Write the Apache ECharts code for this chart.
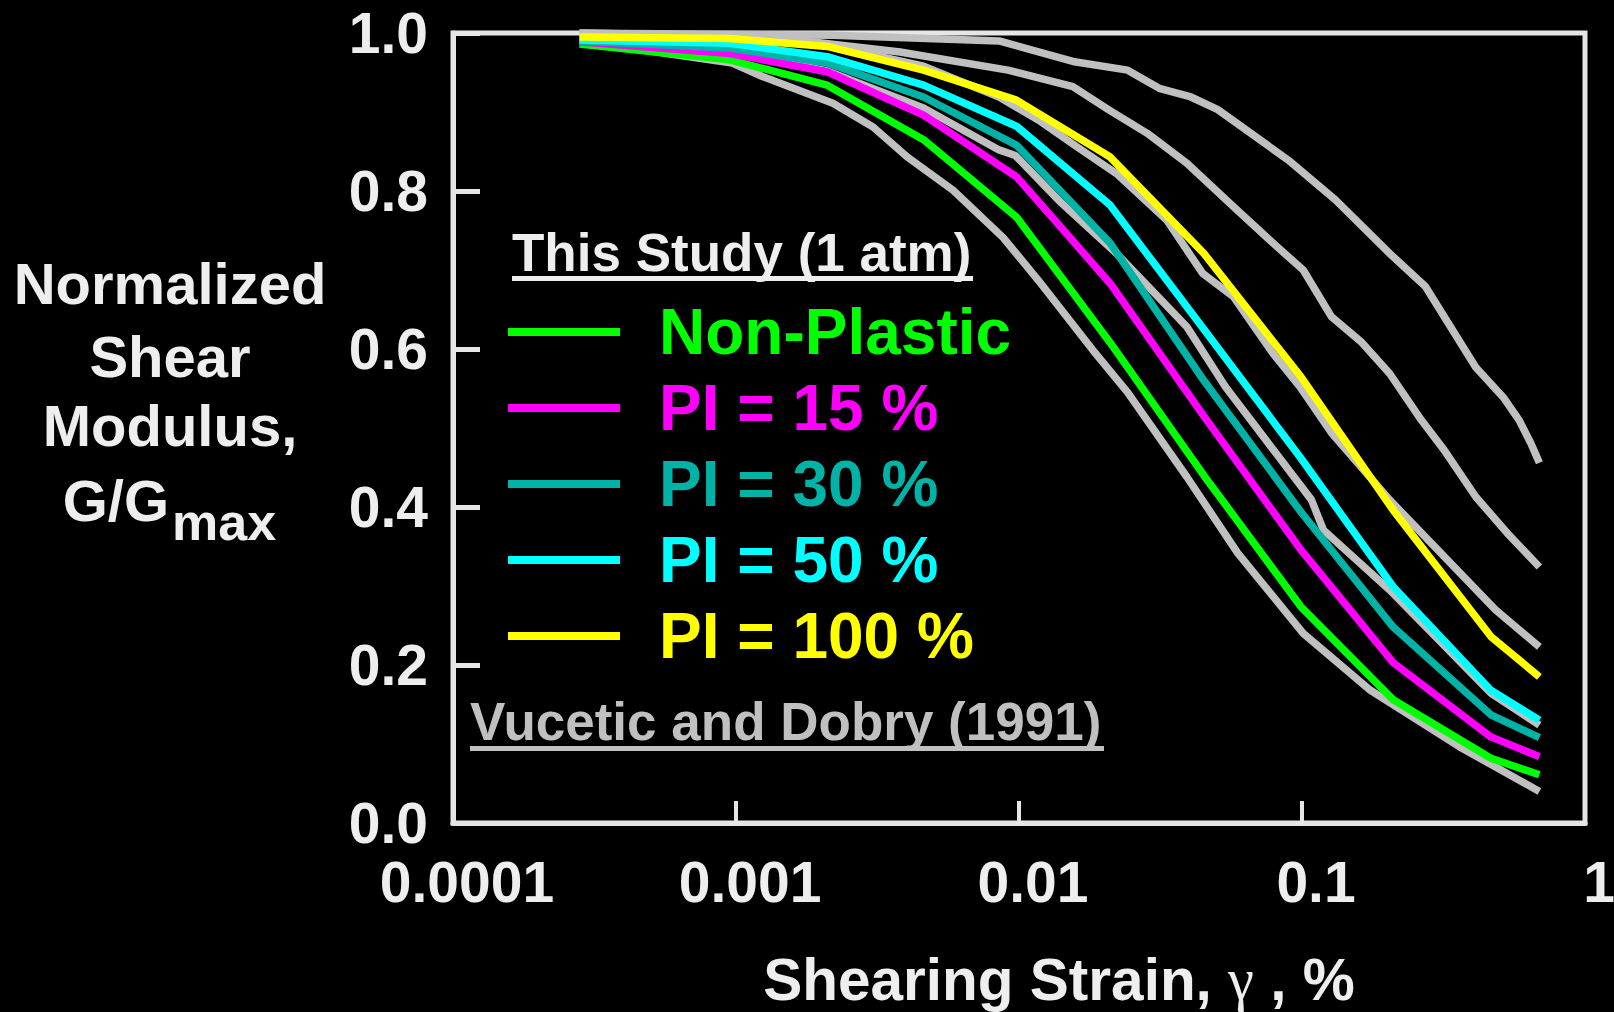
<!DOCTYPE html>
<html><head><meta charset="utf-8">
<script src="https://cdn.jsdelivr.net/npm/echarts@6/dist/echarts.min.js"></script>
<style>html,body{margin:0;padding:0;background:#000;}#chart{width:1614px;height:1012px;}</style>
</head><body><div id="chart"></div>
<script>
// ---- Data ----
// This Study (1 atm): strain (%) at the digitised vertices
const STRAIN = [0.00028, 0.00095, 0.0021, 0.0046, 0.0098, 0.021, 0.045, 0.099, 0.21, 0.465, 0.69];
const NON_PLASTIC = [0.986, 0.966, 0.934, 0.865, 0.767, 0.608, 0.440, 0.274, 0.156, 0.082, 0.061];
const PI_15  = [0.989, 0.974, 0.951, 0.896, 0.818, 0.683, 0.515, 0.346, 0.203, 0.109, 0.084];
const PI_30  = [0.990, 0.981, 0.962, 0.919, 0.858, 0.734, 0.560, 0.394, 0.248, 0.137, 0.108];
const PI_50  = [0.991, 0.987, 0.970, 0.934, 0.882, 0.782, 0.625, 0.462, 0.299, 0.168, 0.130];
const PI_100 = [0.995, 0.993, 0.983, 0.953, 0.915, 0.843, 0.721, 0.565, 0.396, 0.236, 0.185];

// Vucetic and Dobry (1991) reference curves (grey)
const VD_PI0_X = [0.00028, 0.00097, 0.00124, 0.0022, 0.00305, 0.00403, 0.00585, 0.00879, 0.0117, 0.0182, 0.0242, 0.0392, 0.0592, 0.101, 0.1745, 0.362, 0.69];
const VD_PI0_Y = [0.990, 0.962, 0.945, 0.911, 0.881, 0.843, 0.801, 0.741, 0.687, 0.599, 0.545, 0.438, 0.342, 0.240, 0.168, 0.096, 0.040];
const VD_PI15_X = [0.00028, 0.00097, 0.0021, 0.0046, 0.0085, 0.0097, 0.0141, 0.0221, 0.0392, 0.0537, 0.108, 0.119, 0.204, 0.466, 0.69];
const VD_PI15_Y = [0.990, 0.976, 0.952, 0.905, 0.852, 0.845, 0.785, 0.721, 0.628, 0.552, 0.409, 0.371, 0.295, 0.164, 0.124];
const VD_PI30_X = [0.00028, 0.00097, 0.0021, 0.0046, 0.0085, 0.0117, 0.016, 0.0221, 0.0333, 0.0445, 0.0573, 0.0787, 0.0984, 0.127, 0.204, 0.482, 0.69];
const VD_PI30_Y = [1.000, 0.996, 0.985, 0.958, 0.919, 0.890, 0.856, 0.822, 0.763, 0.696, 0.666, 0.595, 0.552, 0.494, 0.409, 0.270, 0.223];
const VD_PI50_X = [0.00028, 0.00124, 0.0038, 0.00914, 0.0155, 0.0207, 0.0284, 0.0392, 0.0573, 0.0813, 0.101, 0.127, 0.163, 0.204, 0.264, 0.318, 0.411, 0.531, 0.69];
const VD_PI50_Y = [1.000, 0.996, 0.976, 0.953, 0.932, 0.903, 0.873, 0.835, 0.780, 0.730, 0.700, 0.641, 0.608, 0.569, 0.510, 0.472, 0.413, 0.367, 0.324];
const VD_PI100_X = [0.00028, 0.0022, 0.0085, 0.0155, 0.0242, 0.0313, 0.0405, 0.0504, 0.0895, 0.131, 0.204, 0.273, 0.411, 0.514, 0.585, 0.643, 0.69];
const VD_PI100_Y = [1.000, 0.997, 0.990, 0.964, 0.953, 0.930, 0.919, 0.903, 0.839, 0.789, 0.721, 0.679, 0.577, 0.539, 0.510, 0.481, 0.456];

const SERIES_NAMES = ['Non-Plastic', 'PI = 15 %', 'PI = 30 %', 'PI = 50 %', 'PI = 100 %'];
const X_TICK_LABELS = ['0.0001', '0.001', '0.01', '0.1', '1'];
const Y_TICK_LABELS = ['0.0', '0.2', '0.4', '0.6', '0.8', '1.0'];

// ---- Styling ----
const COLORS = ['#00ff00', '#ff00ff', '#00b3a6', '#00ffff', '#ffff00'];
const GREY = '#c0c0c0';
const AXIS = '#e6e6e6';
const TXT = '#eeeeee';
const FONT = '"Liberation Sans", Arial, Helvetica, sans-serif';
const LINE_W = 7.5;

const zip = (xs, ys) => xs.map((x, i) => [x, ys[i]]);
const studyValues = [NON_PLASTIC, PI_15, PI_30, PI_50, PI_100];
const vdCurves = [
  ['VD PI=0', VD_PI0_X, VD_PI0_Y],
  ['VD PI=15', VD_PI15_X, VD_PI15_Y],
  ['VD PI=30', VD_PI30_X, VD_PI30_Y],
  ['VD PI=50', VD_PI50_X, VD_PI50_Y],
  ['VD PI=100', VD_PI100_X, VD_PI100_Y]
];

const series = [];
vdCurves.forEach(([name, xs, ys]) => {
  series.push({
    name, type: 'line', data: zip(xs, ys), showSymbol: false, z: 2,
    lineStyle: { color: GREY, width: LINE_W }, itemStyle: { color: GREY }, silent: true
  });
});
studyValues.forEach((vals, i) => {
  series.push({
    name: SERIES_NAMES[i], type: 'line', data: zip(STRAIN, vals), showSymbol: false, z: 3,
    lineStyle: { color: COLORS[i], width: LINE_W }, itemStyle: { color: COLORS[i] }, silent: true
  });
});

const chart = echarts.init(document.getElementById('chart'), null, { renderer: 'svg' });

const option = {
  backgroundColor: '#000',
  animation: false,
  grid: {
    left: 453, top: 33, width: 1132, height: 790,
    show: true, borderColor: AXIS, borderWidth: 5, backgroundColor: 'transparent',
    containLabel: false, outerBoundsMode: 'none'
  },
  xAxis: {
    type: 'log', logBase: 10, min: 0.0001, max: 1,
    name: 'Shearing Strain, {g|γ} , %',
    nameLocation: 'middle', nameGap: 127,
    nameTextStyle: {
      color: TXT, fontFamily: FONT, fontWeight: 'bold', fontSize: 58.5, padding: [0, 0, 0, 80],
      rich: { g: { color: TXT, fontFamily: '"Liberation Serif", "DejaVu Serif", serif', fontWeight: 'normal', fontSize: 58.5 } }
    },
    axisLine: { show: true, lineStyle: { color: AXIS, width: 5 } },
    axisTick: { show: true, inside: true, length: 22, lineStyle: { color: AXIS, width: 4 } },
    minorTick: { show: false },
    splitLine: { show: false },
    axisLabel: {
      color: TXT, fontFamily: FONT, fontWeight: 'bold', fontSize: 57, margin: 30,
      padding: [0, 0, 0, 28], showMinLabel: true, showMaxLabel: true,
      formatter: v => X_TICK_LABELS[Math.round(Math.log10(v)) + 4]
    }
  },
  yAxis: {
    type: 'value', min: 0, max: 1, interval: 0.2,
    axisLine: { show: true, lineStyle: { color: AXIS, width: 5 } },
    axisTick: { show: true, inside: true, length: 27, lineStyle: { color: AXIS, width: 5 } },
    splitLine: { show: false },
    axisLabel: {
      color: TXT, fontFamily: FONT, fontWeight: 'bold', fontSize: 57, margin: 25,
      showMinLabel: true, showMaxLabel: true,
      formatter: v => Y_TICK_LABELS[Math.round(v * 5)]
    }
  },
  legend: {
    orient: 'vertical', left: 508, top: 300,
    itemWidth: 112, itemHeight: 8, itemGap: 12, icon: 'rect', selectedMode: false,
    padding: 0,
    textStyle: { fontFamily: FONT, fontWeight: 'bold', fontSize: 64, lineHeight: 64, padding: [0, 0, 0, 34] },
    data: SERIES_NAMES.map((n, i) => ({ name: n, textStyle: { color: COLORS[i] } }))
  },
  graphic: [
    // y-axis title
    { type: 'text', x: 170, y: 283, style: { text: 'Normalized', fill: TXT, font: 'bold 58px ' + FONT, align: 'center', verticalAlign: 'middle' } },
    { type: 'text', x: 170, y: 356, style: { text: 'Shear', fill: TXT, font: 'bold 58px ' + FONT, align: 'center', verticalAlign: 'middle' } },
    { type: 'text', x: 170, y: 425, style: { text: 'Modulus,', fill: TXT, font: 'bold 58px ' + FONT, align: 'center', verticalAlign: 'middle' } },
    { type: 'text', x: 169, y: 500, style: { text: 'G/G', fill: TXT, font: 'bold 58px ' + FONT, align: 'right', verticalAlign: 'middle' } },
    { type: 'text', x: 172, y: 522, style: { text: 'max', fill: TXT, font: 'bold 52px ' + FONT, align: 'left', verticalAlign: 'middle' } },
    // legend header
    { type: 'text', x: 512, y: 252, style: { text: 'This Study (1 atm)', fill: TXT, font: 'bold 53px ' + FONT, align: 'left', verticalAlign: 'middle' } },
    { type: 'rect', shape: { x: 512, y: 276, width: 461, height: 5 }, style: { fill: TXT } },
    // Vucetic & Dobry label
    { type: 'text', x: 470, y: 721, style: { text: 'Vucetic and Dobry (1991)', fill: GREY, font: 'bold 53px ' + FONT, align: 'left', verticalAlign: 'middle' } },
    { type: 'rect', shape: { x: 470, y: 746, width: 634, height: 5 }, style: { fill: GREY } }
  ],
  series
};
chart.setOption(option);
</script></body></html>
